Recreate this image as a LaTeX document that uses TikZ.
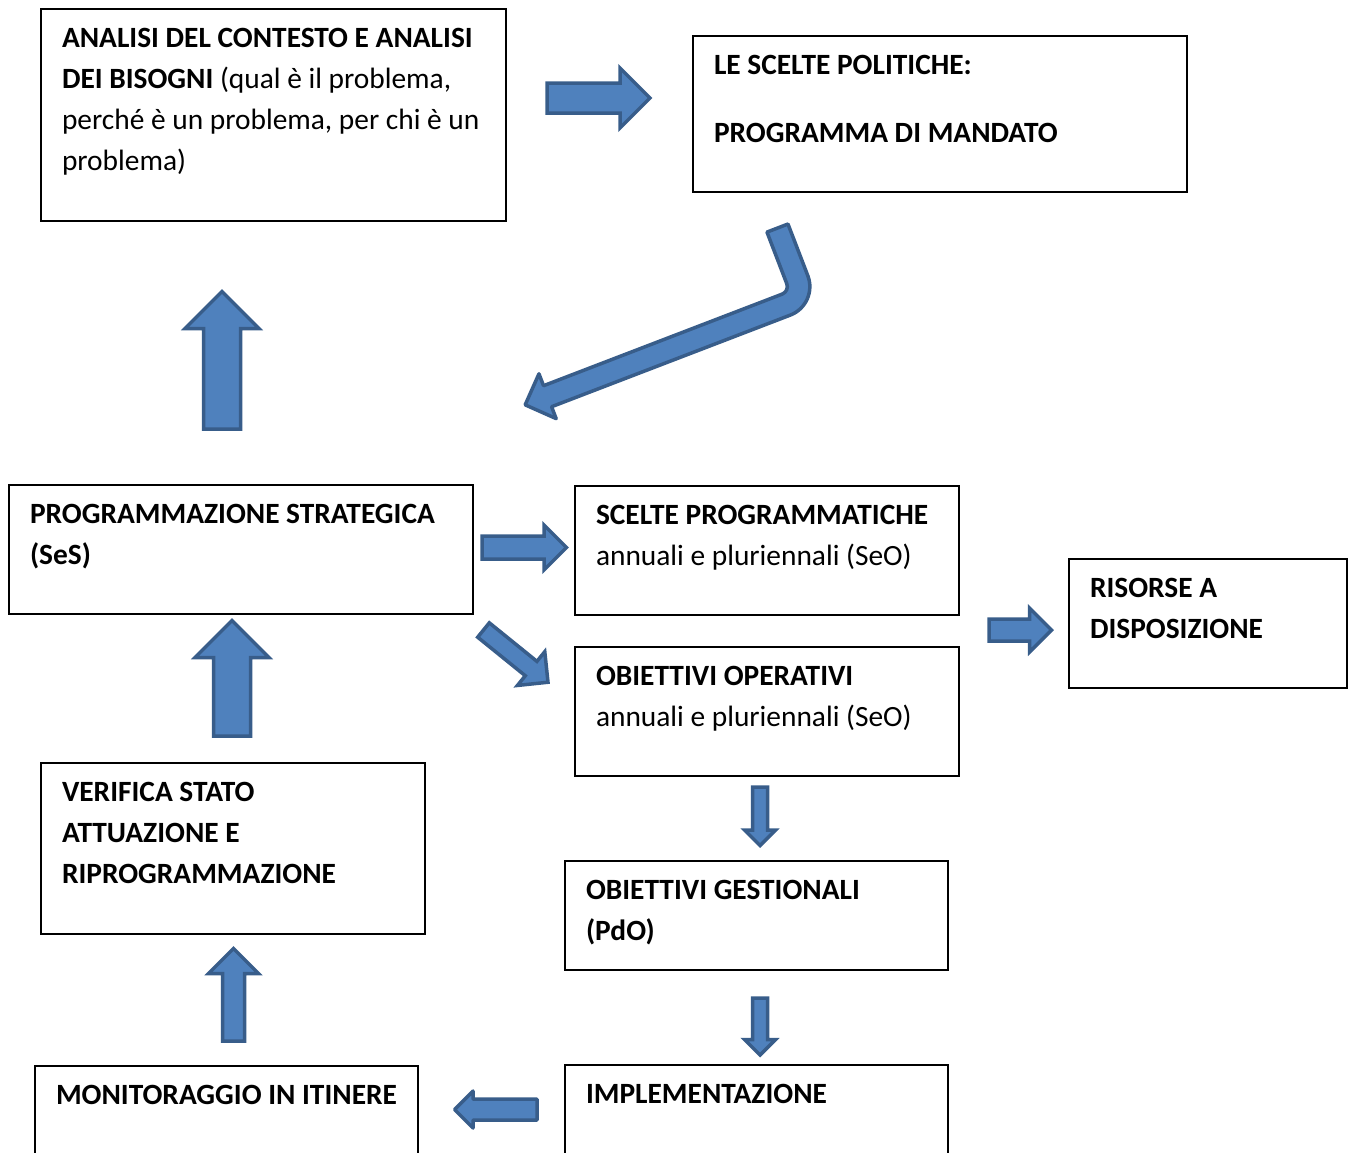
\documentclass[tikz,border=0pt]{standalone}
\usepackage{fontspec}
\setmainfont{Carlito}
\usetikzlibrary{positioning,shapes.arrows}
\definecolor{arrowfill}{HTML}{4F81BD}
\definecolor{arrowline}{HTML}{385D8A}

\begin{document}
\begin{tikzpicture}[x=1pt, y=-1pt,
  box/.style={draw=black, line width=1.8pt, anchor=north west, align=left, inner xsep=21pt, inner ysep=0pt, outer sep=0pt, text height=38pt, font=\fontsize{29.4pt}{41pt}\selectfont, execute at begin node={\spaceskip=0pt\xspaceskip=0pt\relax}},
  barrow/.style={single arrow, single arrow head indent=0pt, draw=arrowline, fill=arrowfill, line width=3.5pt, inner sep=0pt, outer sep=0pt, anchor=tail},
  bent/.style={draw=arrowline, fill=arrowfill, line width=3.5pt, line join=round},
]
\useasboundingbox (0,0) rectangle (1356,1152);
\clip (0,0) rectangle (1356,1152);
\node[box, text width=423pt, text depth=174pt] (analisi) at (41,9) {\textbf{ANALISI DEL CONTESTO E ANALISI}\\\textbf{DEI BISOGNI} (qual è il problema,\\perché è un problema, per chi è un\\problema)};
\node[box, text width=452pt, text depth=118pt] (politiche) at (693,36) {\textbf{LE SCELTE POLITICHE:}\\[27pt]\textbf{PROGRAMMA DI MANDATO}};
\node[box, text width=422pt, text depth=91pt] (strategica) at (9,485) {\textbf{PROGRAMMAZIONE STRATEGICA}\\\textbf{(SeS)}};
\node[box, text width=342pt, text depth=91pt] (scelte) at (575,486) {\textbf{SCELTE PROGRAMMATICHE}\\annuali e pluriennali (SeO)};
\node[box, text width=236pt, text depth=91pt] (risorse) at (1069,559) {\textbf{RISORSE A}\\\textbf{DISPOSIZIONE}};
\node[box, text width=342pt, text depth=91pt, below=32pt of scelte] (operativi) {\textbf{OBIETTIVI OPERATIVI}\\annuali e pluriennali (SeO)};
\node[box, text width=342pt, text depth=133pt] (verifica) at (41,763) {\textbf{VERIFICA STATO}\\\textbf{ATTUAZIONE E}\\\textbf{RIPROGRAMMAZIONE}};
\node[box, text width=341pt, text depth=71pt] (gestionali) at (565,861) {\textbf{OBIETTIVI GESTIONALI}\\\textbf{(PdO)}};
\node[box, text width=341pt, text depth=100pt] (monitor) at (35,1066) {\textbf{MONITORAGGIO IN ITINERE}};
\node[box, text width=341pt, text depth=100pt, below=95pt of gestionali] (implem) {\textbf{IMPLEMENTAZIONE}};
\node[barrow, minimum height=103pt, minimum width=56.5pt, inner ysep=13.25pt, single arrow head extend=15pt] (ana2pol) at (547,98) {};
\node[barrow, minimum height=137.5pt, minimum width=70.5pt, inner ysep=16.75pt, single arrow head extend=18.5pt, rotate=90] (str2ana) at (222,429) {};
\node[barrow, minimum height=84.5pt, minimum width=41.5pt, inner ysep=9.75pt, single arrow head extend=11pt] (str2sce) at (482,547.5) {};
\node[barrow, minimum height=83pt, minimum width=40pt, inner ysep=7.5pt, single arrow head extend=12.5pt, rotate=-39] (str2ope) at (483.5,630) {};
\node[barrow, minimum height=62.5pt, minimum width=40.5pt, inner ysep=9.25pt, single arrow head extend=11pt] (to2ris) at (989,630) {};
\node[barrow, minimum height=115.5pt, minimum width=70.5pt, inner ysep=16.75pt, single arrow head extend=18.5pt, rotate=90] (ver2str) at (232,736) {};
\node[barrow, minimum height=58.5pt, minimum width=27.5pt, inner ysep=5.75pt, single arrow head extend=8pt, rotate=-90] (ope2ges) at (760,787) {};
\node[barrow, minimum height=92.5pt, minimum width=46.5pt, inner ysep=9.25pt, single arrow head extend=14pt, rotate=90] (mon2ver) at (233.5,1041) {};
\node[barrow, minimum height=57pt, minimum width=27.5pt, inner ysep=5.75pt, single arrow head extend=8pt, rotate=-90] (ges2imp) at (760,998) {};
\node[barrow, minimum height=82.5pt, minimum width=33.5pt, inner ysep=8.75pt, single arrow head extend=8pt, rotate=180, line join=round] (imp2mon) at (537,1109.5) {};
\begin{scope}[shift={(804.2,297.7)}, rotate=21, x=1pt, y=1pt]
\filldraw[bent] (-11.25,74.6) -- (-11.25,19.25) arc[start angle=0, end angle=-90, radius=8pt] -- (-274.9,11.25) -- (-274.9,24) -- (-298.9,0) -- (-274.9,-24) -- (-274.9,-11.25) -- (-19.25,-11.25) arc[start angle=-90, end angle=0, radius=30.5pt] -- (11.25,74.6) -- cycle;
\end{scope}
\end{tikzpicture}
\end{document}
